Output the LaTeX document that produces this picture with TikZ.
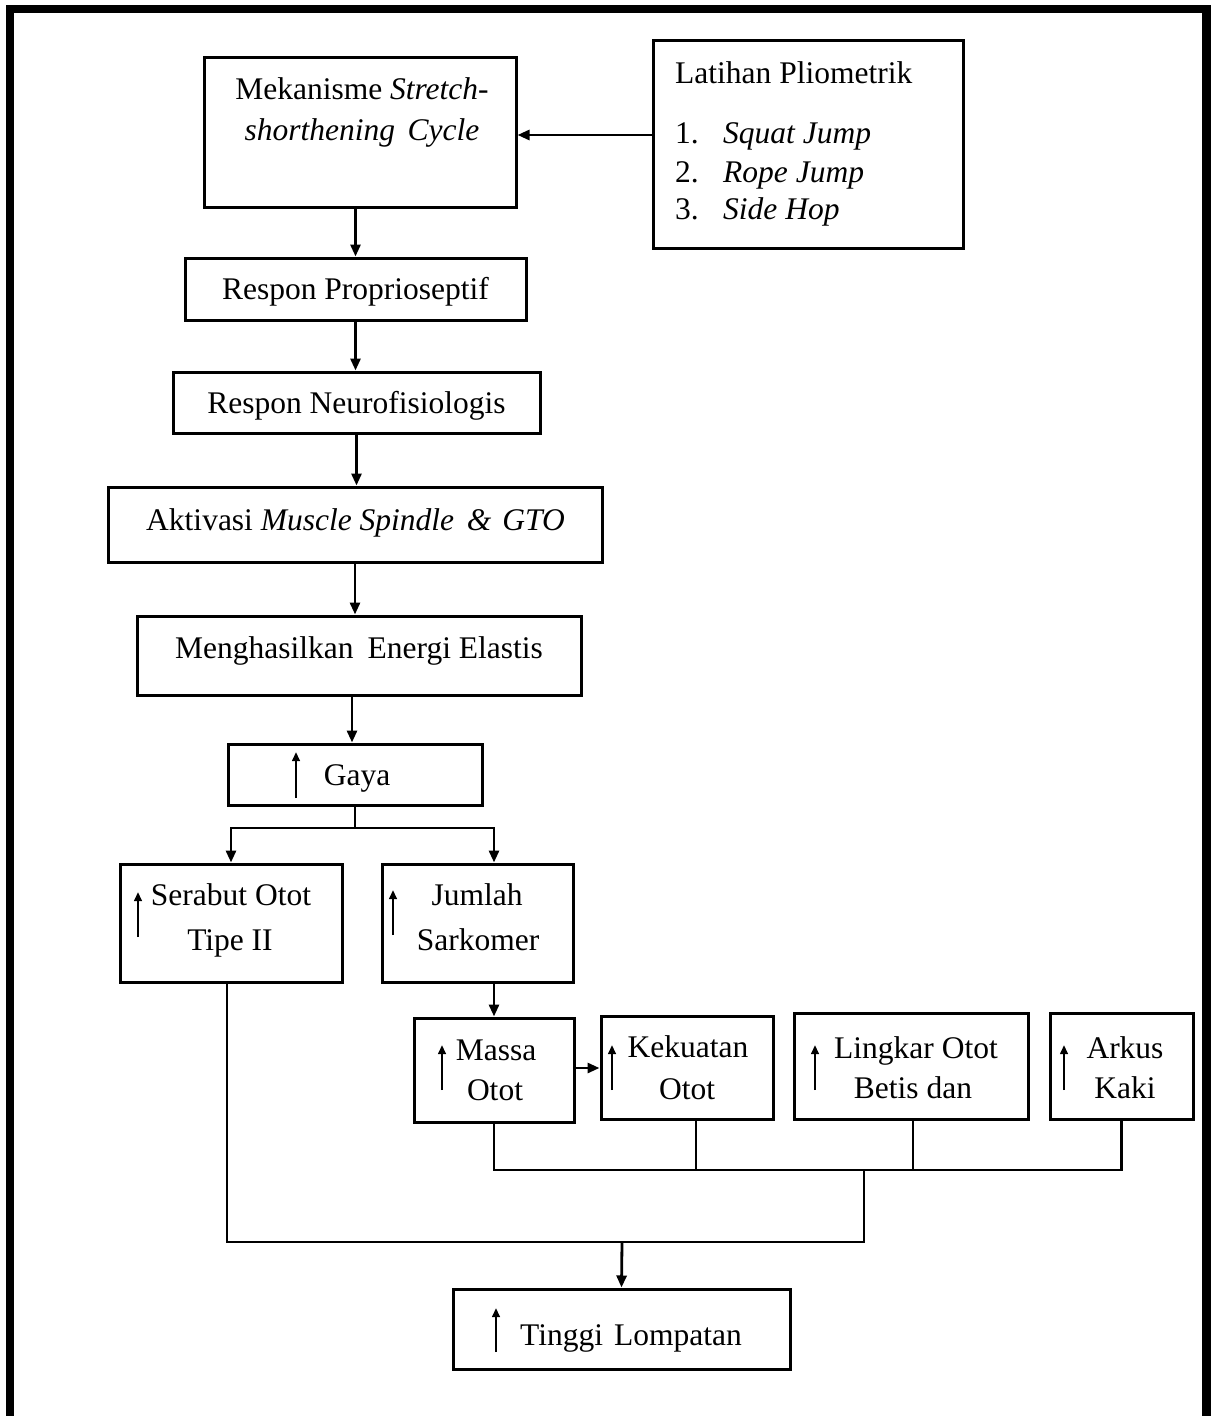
\documentclass[tikz,border=0pt]{standalone}
\usepackage{fontspec}
\setmainfont{Liberation Serif}
\usetikzlibrary{arrows.meta}
\begin{document}
\begin{tikzpicture}[x=1pt,y=-1pt,
  box/.style={draw, line width=3pt, inner sep=0pt, rectangle},
  txt/.style={anchor=base, inner sep=0pt, font=\fontsize{31.5}{38}\selectfont},
  txtl/.style={txt, anchor=base west},
  arr/.style={line width=2.8pt, -{Triangle[length=12pt,width=10pt]}},
  conn/.style={line width=2.2pt},
  uparr/.style={line width=2.5pt, -{Triangle[length=9pt,width=7.5pt]}},
  frame/.style={line width=8.5pt, line join=miter}
]
\useasboundingbox (0,0) rectangle (1216,1416);
% outer frame (no bottom side)
\draw[frame] (10,1416) -- (10,9) -- (1206.5,9) -- (1206.5,1416);

% boxes
\node[box, minimum width=312pt, minimum height=150pt] (mek) at (360,132) {};
\node[box, minimum width=310pt, minimum height=208pt] (lat) at (808,144) {};
\node[box, minimum width=341pt, minimum height=62pt] (prop) at (355.5,289) {};
\node[box, minimum width=367pt, minimum height=61pt] (neu) at (356.5,402.5) {};
\node[box, minimum width=494pt, minimum height=75pt] (akt) at (355,524.5) {};
\node[box, minimum width=444pt, minimum height=79pt] (men) at (359,655.5) {};
\node[box, minimum width=254pt, minimum height=61pt] (gaya) at (355,774.5) {};
\node[box, minimum width=222pt, minimum height=118pt] (ser) at (231,923) {};
\node[box, minimum width=191pt, minimum height=118pt] (jum) at (477.5,923) {};
\node[box, minimum width=160pt, minimum height=104pt] (mas) at (494,1070) {};
\node[box, minimum width=172pt, minimum height=103pt] (kek) at (687,1067.5) {};
\node[box, minimum width=234pt, minimum height=106pt] (lin) at (911,1066) {};
\node[box, minimum width=143pt, minimum height=106pt] (ark) at (1121.5,1066) {};
\node[box, minimum width=337pt, minimum height=80pt] (tin) at (621.5,1329) {};

% texts
\node[txt] (mekA) at (362,99) {Mekanisme \textit{Stretch-}};
\node[txt] (mekB) at (362,140) {\textit{shorthening\hspace{0.4em}Cycle}};
\node[txtl] (latT) at (675,83) {Latihan Pliometrik};
\node[txtl] (n1) at (675,143) {1.};
\node[txtl] (i1) at (723,143) {\textit{Squat Jump}};
\node[txtl] (n2) at (675,182) {2.};
\node[txtl] (i2) at (723,182) {\textit{Rope Jump}};
\node[txtl] (n3) at (675,219) {3.};
\node[txtl] (i3) at (723,219) {\textit{Side Hop}};
\node[txt] (propT) at (355.5,299) {Respon Proprioseptif};
\node[txt] (neuT) at (356.5,413) {Respon Neurofisiologis};
\node[txt] (aktT) at (355.5,530) {Aktivasi \textit{Muscle Spindle\hspace{0.4em}\&\hspace{0.35em}GTO}};
\node[txt] (menT) at (359,658) {Menghasilkan\hspace{0.45em}Energi Elastis};
\node[txt] (gayaT) at (357,785) {Gaya};
\node[txt] (serA) at (231,905) {Serabut Otot};
\node[txt] (serB) at (230,950) {Tipe II};
\node[txt] (jumA) at (477,905) {Jumlah};
\node[txt] (jumB) at (478,950) {Sarkomer};
\node[txt] (masA) at (496,1060) {Massa};
\node[txt] (masB) at (495,1100) {Otot};
\node[txt] (kekA) at (688,1057) {Kekuatan};
\node[txt] (kekB) at (687,1099) {Otot};
\node[txt] (linA) at (916,1058) {Lingkar Otot};
\node[txt] (linB) at (913,1098) {Betis dan};
\node[txt] (arkA) at (1125,1058) {Arkus};
\node[txt] (arkB) at (1125,1098) {Kaki};
\node[txtl] (tinT) at (520,1345) {Tinggi\hspace{0.35em}Lompatan};

% up arrows inside boxes
\draw[uparr] (296,798) -- (296,752);
\draw[uparr] (138,937) -- (138,892);
\draw[uparr] (393,935) -- (393,890);
\draw[uparr] (442,1090) -- (442,1045);
\draw[uparr] (612,1090) -- (612,1045);
\draw[uparr] (815,1090) -- (815,1045);
\draw[uparr] (1064,1090) -- (1064,1045);
\draw[uparr] (496,1352) -- (496,1308);

% connectors
\draw[arr] (lat.west |- 0,135) -- (mek.east |- 0,135);
\draw[arr] (mek.south -| prop.north) -- (prop.north);
\draw[arr] (prop.south) -- (prop.south |- neu.north);
\draw[arr] (neu.south) -- (neu.south |- akt.north);
\draw[arr] (akt.south) -- (akt.south |- men.north);
\draw[arr] (men.south -| 352,0) -- (gaya.north -| 352,0);
\coordinate (gsplit) at (355,828);
\draw[conn] (gaya.south) -- (gsplit);
\draw[arr] (gsplit) -| (ser.north);
\draw[arr] (gsplit) -| ([xshift=16.5pt]jum.north);
\draw[arr] (jum.south -| mas.north) -- (mas.north);
\draw[arr] (mas.east |- 0,1068) -- (kek.west |- 0,1068);
\coordinate (j1) at (864,1170);
\draw[conn] (mas.south) -- (mas.south |- j1) -- (ark.south |- j1) -- (ark.south);
\draw[conn] ([xshift=9pt]kek.south) -- ([xshift=9pt]kek.south |- j1);
\draw[conn] ([xshift=2pt]lin.south) -- ([xshift=2pt]lin.south |- j1);
\coordinate (j2) at (622,1242);
\draw[conn] ([xshift=-4pt]ser.south) |- (j1 |- j2) -- (j1);
\draw[arr] (j2) -- (tin.north);
\end{tikzpicture}
\end{document}
